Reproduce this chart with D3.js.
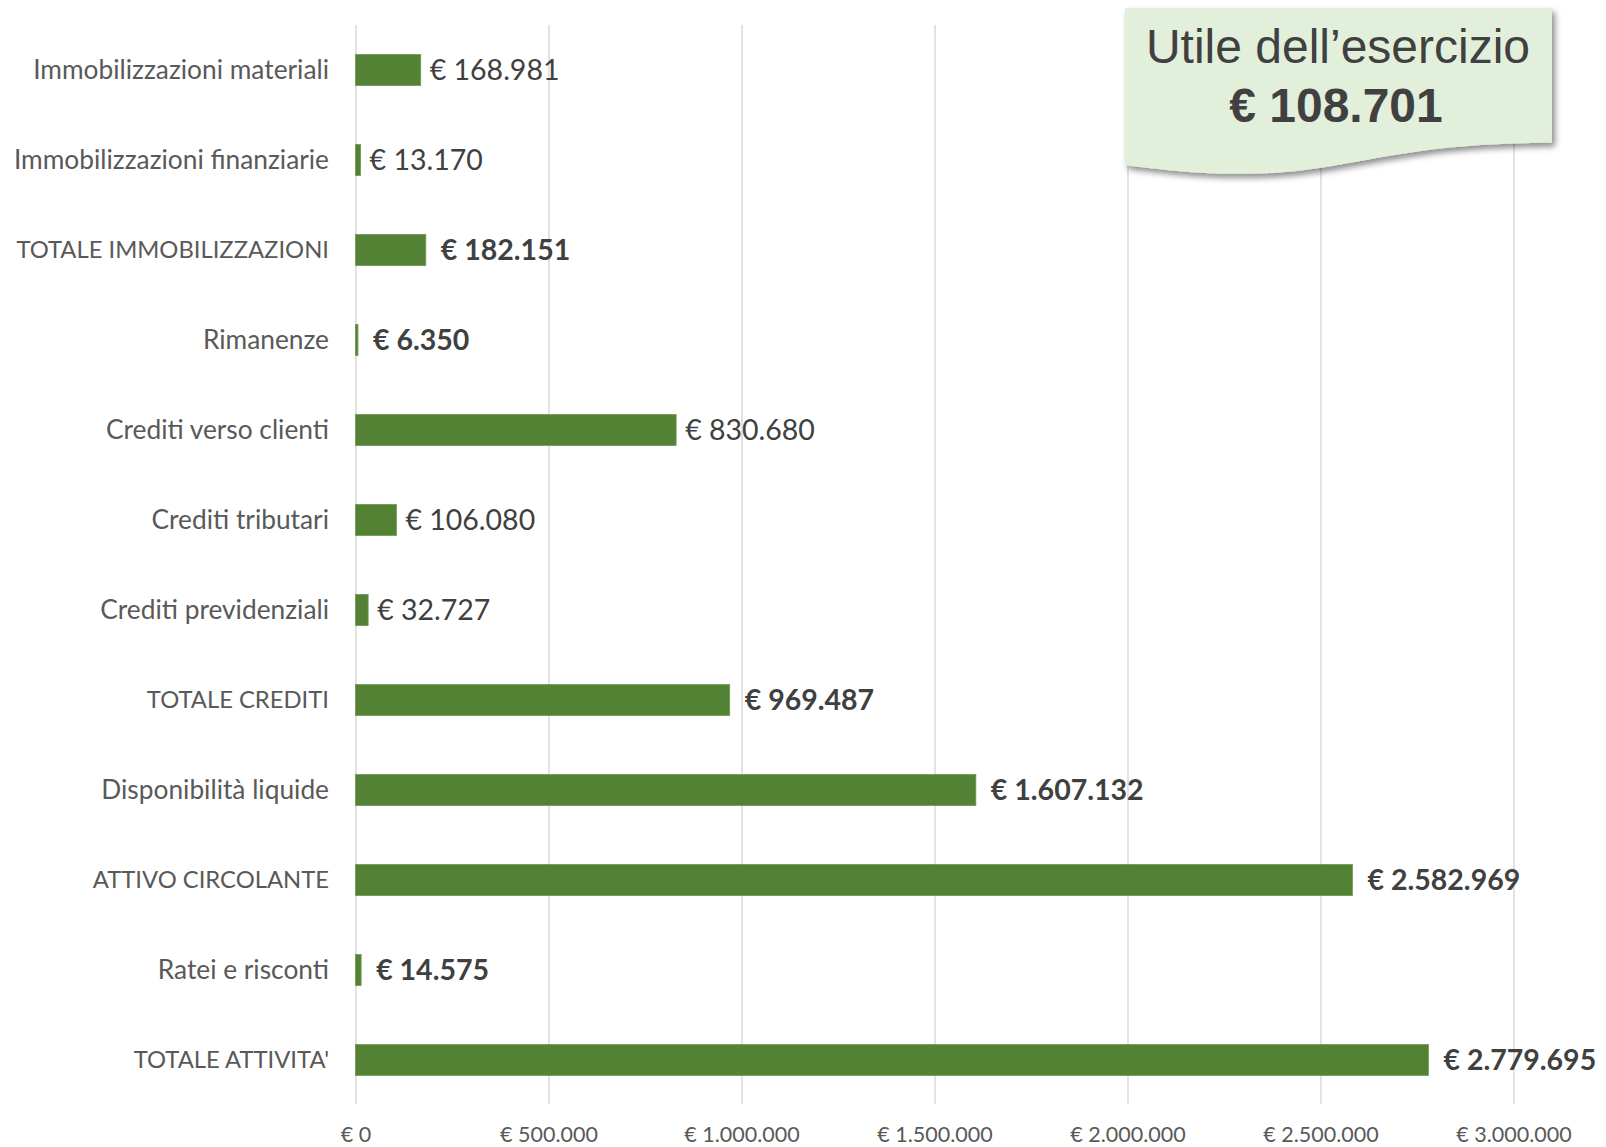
<!DOCTYPE html>
<html>
<head>
<meta charset="utf-8">
<style>
  body { margin: 0; background: #fff; }
  .axis path { display: none; }
  .axis line { stroke: #d9d9d9; stroke-width: 1.5px; }
  .axis text { font: 21.5px Lato, sans-serif; fill: #595959; }
  .cat { font-family: Lato, sans-serif; font-size: 26.3px; fill: #595959; }
  .cat.caps { font-size: 23.8px; }
  .val { font-family: Lato, sans-serif; font-size: 28.5px; fill: #404040; }
</style>
</head>
<body>
<script src="https://d3js.org/d3.v7.min.js"></script>
<svg id="chart" width="1606" height="1147"></svg>
<script>
// voci dello stato patrimoniale (attivo)
var categories = [
  "Immobilizzazioni materiali",
  "Immobilizzazioni finanziarie",
  "TOTALE IMMOBILIZZAZIONI",
  "Rimanenze",
  "Crediti verso clienti",
  "Crediti tributari",
  "Crediti previdenziali",
  "TOTALE CREDITI",
  "Disponibilità liquide",
  "ATTIVO CIRCOLANTE",
  "Ratei e risconti",
  "TOTALE ATTIVITA'"
];
var values = [168981, 13170, 182151, 6350, 830680, 106080, 32727, 969487, 1607132, 2582969, 14575, 2779695];
var ticks = [0, 500000, 1000000, 1500000, 2000000, 2500000, 3000000];
var utileTitle = "Utile dell\u2019esercizio";
var utile = 108701;

// etichette in grassetto
var boldCats = ["TOTALE IMMOBILIZZAZIONI", "Rimanenze", "TOTALE CREDITI", "Disponibilità liquide",
  "ATTIVO CIRCOLANTE", "Ratei e risconti", "TOTALE ATTIVITA'"];

var it = d3.formatLocale({decimal: ",", thousands: ".", grouping: [3], currency: ["€ ", ""]});
var eur = function(v) { return "€ " + it.format(",")(v); };

var svg = d3.select("#chart");

var mLeft = 355.5, mRight = 1513.5, mTop = 25, mBottom = 1105;

var x = d3.scaleLinear().domain([0, 3000000]).range([mLeft, mRight]);
var y = d3.scaleBand().domain(categories).range([mTop, mBottom]).paddingInner(0.655).paddingOuter(0.3275);

// griglia + etichette asse
var ax = svg.append("g")
  .attr("class", "axis")
  .attr("transform", "translate(0," + (mBottom - 1) + ")")
  .call(d3.axisBottom(x).tickValues(ticks).tickSize(-(mBottom - 1 - mTop)).tickPadding(23).tickFormat(eur));
ax.selectAll("text").attr("dy", "0.71em");

// barre
svg.append("g").selectAll("rect")
  .data(values)
  .enter().append("rect")
  .attr("x", x(0))
  .attr("y", function(d, i) { return y(categories[i]); })
  .attr("width", function(d) { return x(d) - x(0); })
  .attr("height", y.bandwidth())
  .attr("fill", "#548235")
  .attr("stroke", "#6f9a52")
  .attr("stroke-width", 0.8);

// categorie
svg.append("g").selectAll("text")
  .data(categories)
  .enter().append("text")
  .attr("class", function(d) { return d === d.toUpperCase() ? "cat caps" : "cat"; })
  .attr("x", 329)
  .attr("y", function(d) { return y(d) + y.bandwidth() / 2; })
  .attr("dy", "0.35em")
  .attr("text-anchor", "end")
  .text(function(d) { return d; });

// valori
svg.append("g").selectAll("text")
  .data(values)
  .enter().append("text")
  .attr("class", "val")
  .attr("x", function(d, i) { return x(d) + (boldCats.indexOf(categories[i]) >= 0 ? 15 : 9); })
  .attr("y", function(d, i) { return y(categories[i]) + y.bandwidth() / 2; })
  .attr("dy", "0.36em")
  .style("font-weight", function(d, i) { return boldCats.indexOf(categories[i]) >= 0 ? "bold" : "normal"; })
  .text(eur);

// riquadro utile
var defs = svg.append("defs");
var f = defs.append("filter").attr("id", "shadow").attr("x", "-10%").attr("y", "-10%").attr("width", "130%").attr("height", "140%");
f.append("feDropShadow").attr("dx", 3).attr("dy", 4).attr("stdDeviation", 3).attr("flood-color", "#000").attr("flood-opacity", 0.45);

var bx = 1125, by = 8, bw = 427, bh = 168;
var p = d3.path();
p.moveTo(bx, by);
p.lineTo(bx + bw, by);
p.lineTo(bx + bw, by + bh * 0.802);
p.bezierCurveTo(bx + bw / 2, by + bh * 0.802, bx + bw / 2, by + bh * 1.1075, bx, by + bh * 0.934);
p.closePath();

svg.append("path")
  .attr("d", p.toString())
  .attr("fill", "#e2efda")
  .attr("filter", "url(#shadow)");

svg.append("text")
  .attr("x", 1338).attr("y", 63)
  .attr("text-anchor", "middle")
  .style("font", "48px 'Liberation Sans', Arial, sans-serif")
  .style("fill", "#404040")
  .text(utileTitle);

svg.append("text")
  .attr("x", 1336).attr("y", 122)
  .attr("text-anchor", "middle")
  .style("font", "bold 48px 'Liberation Sans', Arial, sans-serif")
  .style("fill", "#404040")
  .text(eur(utile));
</script>
</body>
</html>
